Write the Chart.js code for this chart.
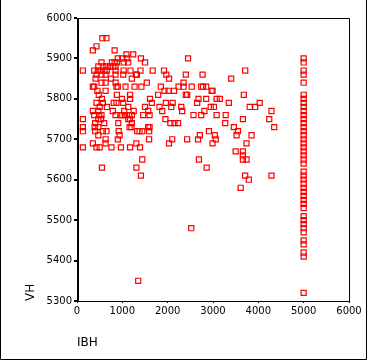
<!DOCTYPE html>
<html>
<head>
<meta charset="utf-8">
<script src="https://cdn.jsdelivr.net/npm/chart.js@4"></script>
<style>
  html, body { margin: 0; padding: 0; background: #ffffff; }
  canvas { display: block; }
</style>
</head>
<body>
<canvas id="c" width="368" height="361"></canvas>
<script>
// Data (IBH on x, VH on y)
const xTickValues = [0, 1000, 2000, 3000, 4000, 5000, 6000];
const yTickValues = [5300, 5400, 5500, 5600, 5700, 5800, 5900, 6000];

const ibh = [
  560, 650,
  430,
  350, 830,
  1090, 1240,
  900, 1000, 1100, 1410, 2450, 5000,
  540, 770, 830, 880, 1030, 1130, 1500, 5000,
  470, 580, 650, 730, 800, 850,
  130, 380, 460, 520, 610, 660, 850, 1030, 1180, 1400, 1670, 1920, 3710, 5000,
  430, 540, 630, 850, 1020, 1300, 1320, 1970, 2400, 2770, 5000,
  410, 750, 1210, 2030, 3400,
  540, 630, 850, 1540, 2350, 5000,
  350, 380, 870, 900, 1070, 1270, 1420, 1850, 2240, 2350, 2530, 2740, 2780, 2850,
  450, 630, 1930, 2020, 2140, 2970, 2990,
  480, 880, 1170, 1790, 2400, 2430, 3680, 5000,
  550, 990, 1170, 1610, 2680, 2850, 3080, 3150, 5000,
  430, 570, 810, 870, 1020, 1650, 1960, 2110, 2650, 3350, 4030, 5000,
  500, 660, 1130, 1500, 1820, 2080, 2300, 2950, 3020, 3810, 3930, 5000,
  350, 470, 790, 1040, 1250, 1570, 1880, 2320, 2810, 4290, 5000,
  380, 490, 540, 850, 960, 1000, 1060, 1150, 1210, 1460, 1600, 2570, 2740, 3080, 3280, 5000,
  130, 470, 530, 1130, 1170, 1950, 3660, 4240, 5000,
  400, 600, 910, 1210, 2060, 2150, 2230, 3270, 5000,
  130, 390, 470, 1160, 1200, 1570, 1600, 3460, 4350, 5000,
  130, 400, 570, 650, 920, 1330, 1380, 1440, 1590, 2910, 3550, 5000,
  470, 940, 2710, 3040, 3520, 3850, 5000,
  630, 900, 1590, 2100, 2430, 2670, 3060, 5000,
  350, 630, 1310, 2030, 2990, 3740, 5000,
  130, 430, 500, 760, 970, 1170, 1390, 5000,
  3500, 3660, 5000,
  3660, 5000,
  1440, 2690, 3660, 3740, 5000,
  5000,
  550, 1310, 2860,
  5000,
  1410, 3710, 4290, 5000,
  3790, 5000,
  5000,
  3610, 5000,
  5000, 5000, 5000, 5000, 5000, 5000, 5000, 5000,
  2520, 5000,
  5000, 5000, 5000, 5000, 5000,
  1350,
  5000
];
const vh = [
  5950, 5950,
  5930,
  5920, 5920,
  5910, 5910,
  5900, 5900, 5900, 5900, 5900, 5900,
  5890, 5890, 5890, 5890, 5890, 5890, 5890, 5890,
  5880, 5880, 5880, 5880, 5880, 5880,
  5870, 5870, 5870, 5870, 5870, 5870, 5870, 5870, 5870, 5870, 5870, 5870, 5870, 5870,
  5860, 5860, 5860, 5860, 5860, 5860, 5860, 5860, 5860, 5860, 5860,
  5850, 5850, 5850, 5850, 5850,
  5840, 5840, 5840, 5840, 5840, 5840,
  5830, 5830, 5830, 5830, 5830, 5830, 5830, 5830, 5830, 5830, 5830, 5830, 5830, 5830,
  5820, 5820, 5820, 5820, 5820, 5820, 5820,
  5810, 5810, 5810, 5810, 5810, 5810, 5810, 5810,
  5800, 5800, 5800, 5800, 5800, 5800, 5800, 5800, 5800,
  5790, 5790, 5790, 5790, 5790, 5790, 5790, 5790, 5790, 5790, 5790, 5790,
  5780, 5780, 5780, 5780, 5780, 5780, 5780, 5780, 5780, 5780, 5780, 5780,
  5770, 5770, 5770, 5770, 5770, 5770, 5770, 5770, 5770, 5770, 5770,
  5760, 5760, 5760, 5760, 5760, 5760, 5760, 5760, 5760, 5760, 5760, 5760, 5760, 5760, 5760, 5760,
  5750, 5750, 5750, 5750, 5750, 5750, 5750, 5750, 5750,
  5740, 5740, 5740, 5740, 5740, 5740, 5740, 5740, 5740,
  5730, 5730, 5730, 5730, 5730, 5730, 5730, 5730, 5730, 5730,
  5720, 5720, 5720, 5720, 5720, 5720, 5720, 5720, 5720, 5720, 5720, 5720,
  5710, 5710, 5710, 5710, 5710, 5710, 5710,
  5700, 5700, 5700, 5700, 5700, 5700, 5700, 5700,
  5690, 5690, 5690, 5690, 5690, 5690, 5690,
  5680, 5680, 5680, 5680, 5680, 5680, 5680, 5680,
  5670, 5670, 5670,
  5660, 5660,
  5650, 5650, 5650, 5650, 5650,
  5640,
  5630, 5630, 5630,
  5620,
  5610, 5610, 5610, 5610,
  5600, 5600,
  5590,
  5580, 5580,
  5570, 5560, 5550, 5540, 5530, 5510, 5500, 5490,
  5480, 5480,
  5470, 5450, 5440, 5420, 5410,
  5350,
  5320
];

const points = ibh.map((x, i) => ({ x: x, y: vh[i] }));

const FONT = "'DejaVu Sans', 'Liberation Sans', sans-serif";

const framePlugin = {
  id: 'frame',
  beforeDatasetsDraw(chart) {
    const ctx = chart.ctx;
    const a = chart.chartArea;
    ctx.save();
    ctx.strokeStyle = '#000000';
    ctx.lineWidth = 1;
    ctx.beginPath();
    ctx.moveTo(Math.round(a.left) + 0.5, Math.round(a.top) + 0.5);
    ctx.lineTo(Math.round(a.right) + 0.5, Math.round(a.top) + 0.5);
    ctx.lineTo(Math.round(a.right) + 0.5, Math.round(a.bottom) + 0.5);
    ctx.lineTo(Math.round(a.left) + 0.5, Math.round(a.bottom) + 0.5);
    ctx.stroke();
    ctx.lineWidth = 2;
    ctx.beginPath();
    ctx.moveTo(Math.round(a.left) + 1, Math.round(a.top));
    ctx.lineTo(Math.round(a.left) + 1, Math.round(a.bottom) + 1);
    ctx.stroke();
    ctx.restore();
  },
  afterDraw(chart) {
    const ctx = chart.ctx;
    const w = chart.width, h = chart.height;
    ctx.save();
    ctx.strokeStyle = '#000000';
    ctx.lineWidth = 1;
    ctx.beginPath();
    ctx.moveTo(0.5, 0);
    ctx.lineTo(0.5, h - 1.5);
    ctx.lineTo(w - 1.5, h - 1.5);
    ctx.lineTo(w - 1.5, 0);
    ctx.stroke();
    ctx.restore();
  }
};

const plainLabel = (v) => String(v);

new Chart(document.getElementById('c'), {
  type: 'scatter',
  data: {
    datasets: [{
      data: points,
      pointStyle: 'rect',
      pointRadius: 3.6,
      pointHoverRadius: 3.6,
      borderColor: '#ff0000',
      backgroundColor: 'rgba(0,0,0,0)',
      borderWidth: 1.2
    }]
  },
  options: {
    responsive: false,
    animation: false,
    events: [],
    layout: { padding: { left: 0, top: 18, right: 19, bottom: 0 } },
    plugins: {
      legend: { display: false },
      tooltip: { enabled: false }
    },
    scales: {
      x: {
        type: 'linear',
        min: xTickValues[0],
        max: xTickValues[xTickValues.length - 1],
        afterBuildTicks: (s) => { s.ticks = xTickValues.map(v => ({ value: v })); },
        afterFit: (s) => { s.height = 60; },
        border: { display: false },
        grid: { drawOnChartArea: false, drawTicks: true, tickLength: 2, color: '#000000', lineWidth: 1 },
        ticks: { color: '#000000', padding: 2, maxRotation: 0, autoSkip: false, callback: plainLabel, font: { family: FONT, size: 10 } },
        title: { display: true, text: 'IBH', align: 'start', color: '#000000', padding: { top: 0, bottom: 11 }, font: { family: FONT, size: 12 } }
      },
      y: {
        type: 'linear',
        min: yTickValues[0],
        max: yTickValues[yTickValues.length - 1],
        afterBuildTicks: (s) => { s.ticks = yTickValues.map(v => ({ value: v })); },
        afterFit: (s) => { s.width = 77; },
        border: { display: false },
        grid: { drawOnChartArea: false, drawTicks: true, tickLength: 3, color: '#000000', lineWidth: 2 },
        ticks: { color: '#000000', padding: 2, autoSkip: false, callback: plainLabel, font: { family: FONT, size: 10 } },
        title: { display: true, text: 'VH', align: 'start', color: '#000000', padding: { top: 24, bottom: 0 }, font: { family: FONT, size: 12 } }
      }
    }
  },
  plugins: [framePlugin]
});
</script>
</body>
</html>
